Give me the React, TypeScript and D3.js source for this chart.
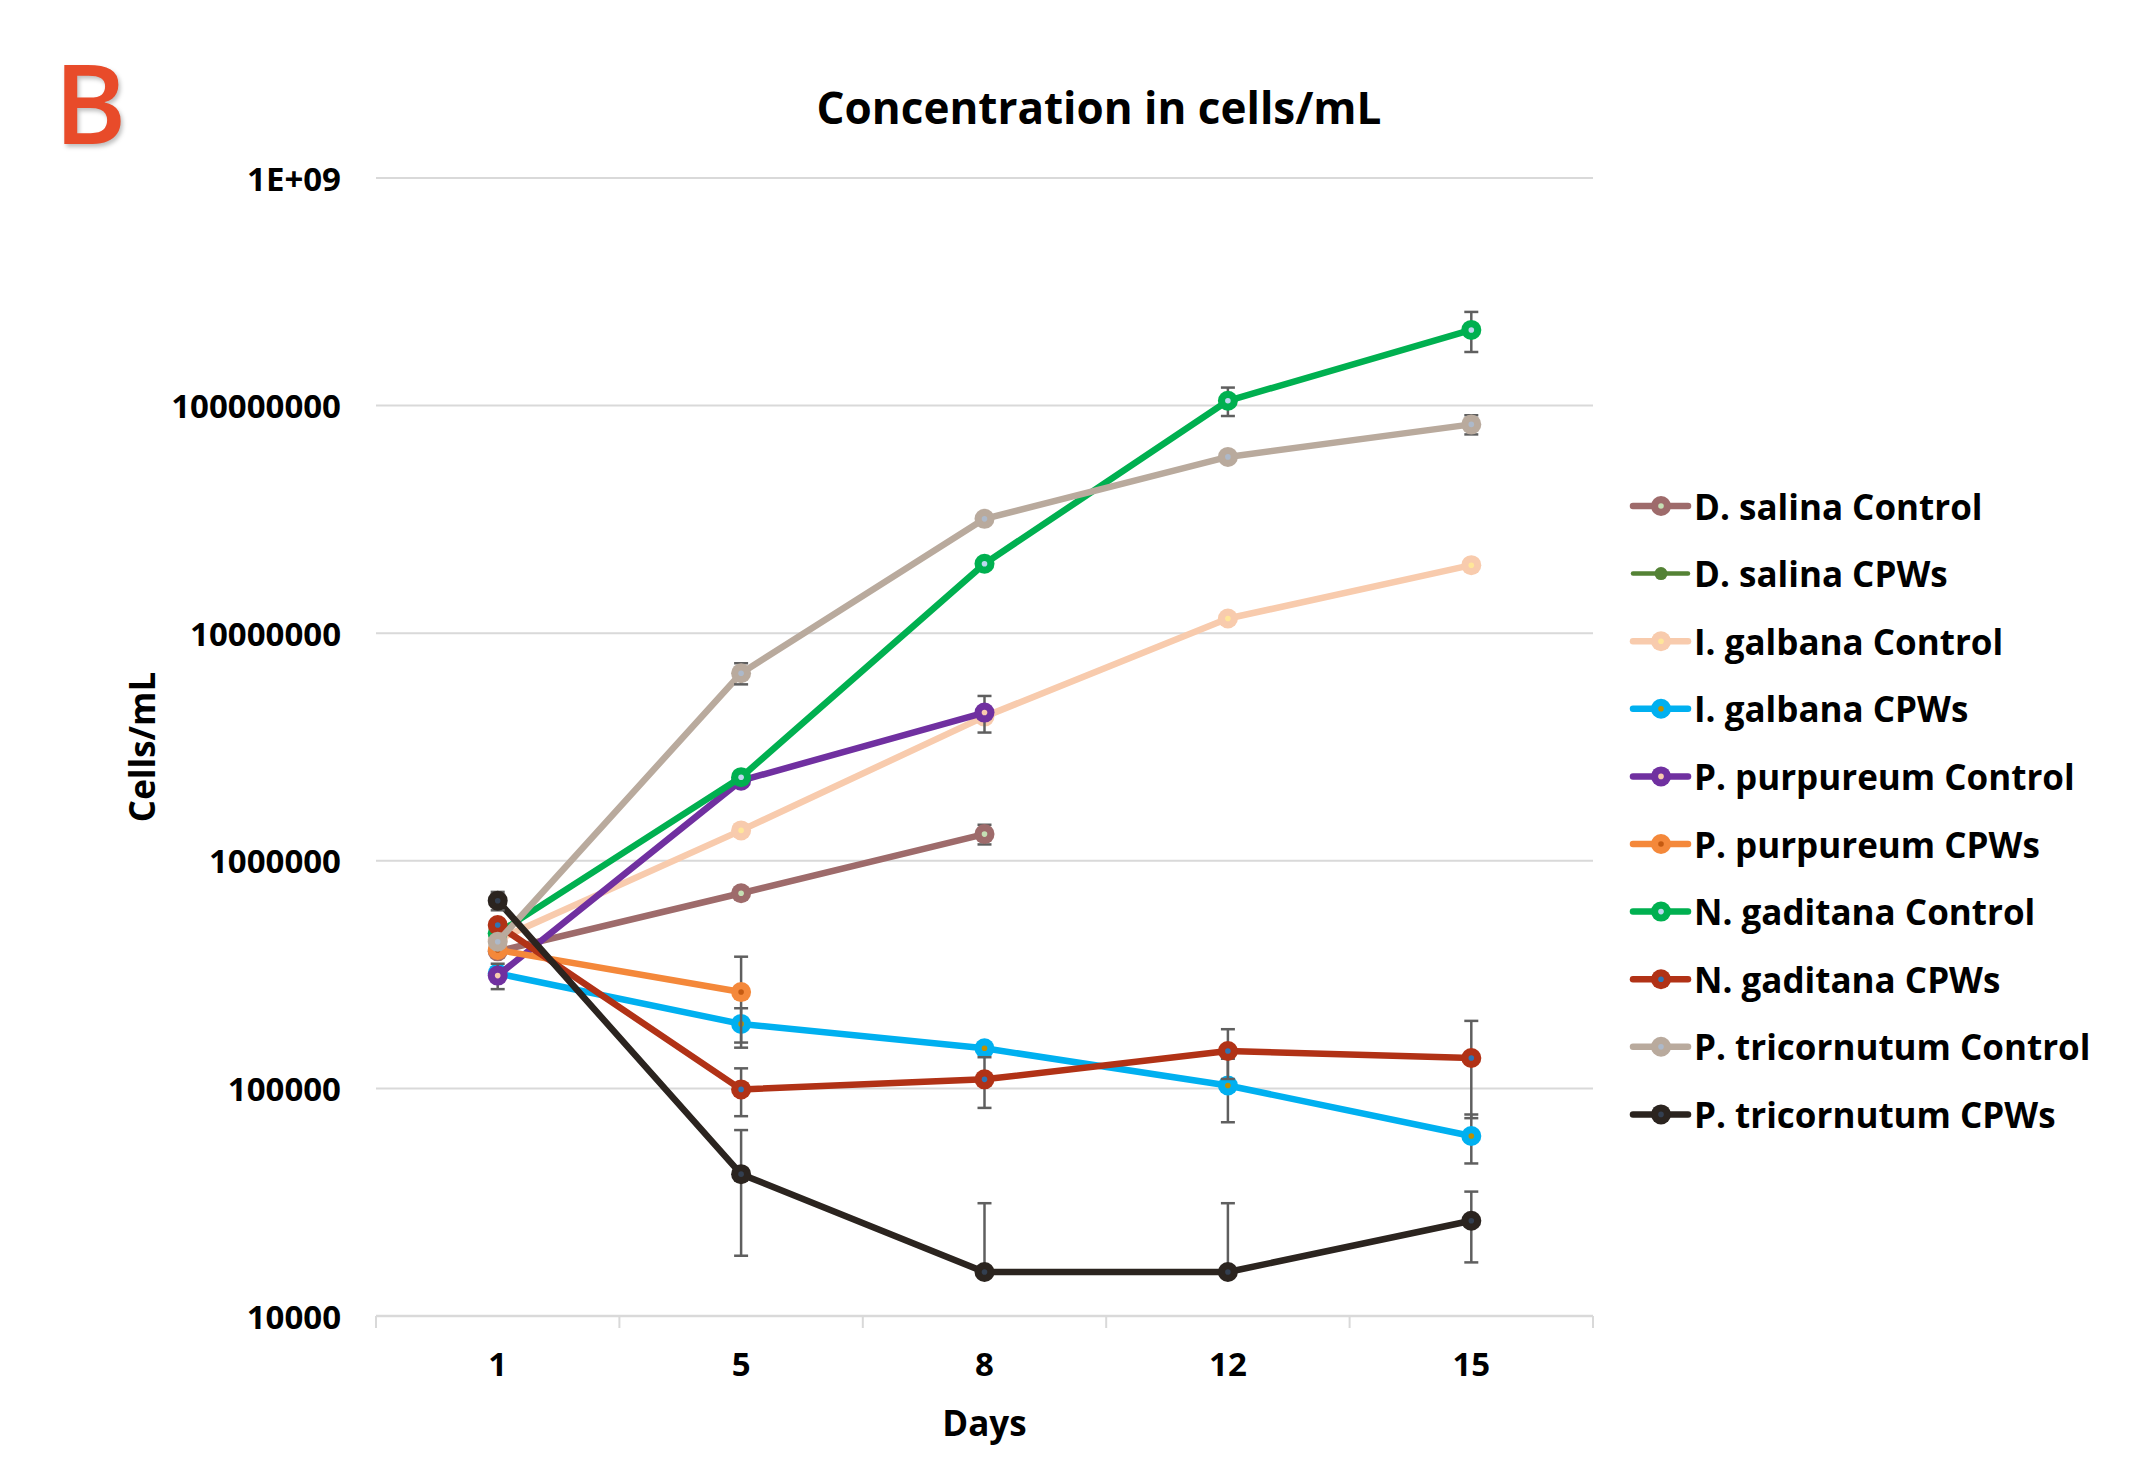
import React from 'react';
import * as d3 from 'd3';

// days on the x axis
const days = ['1', '5', '8', '12', '15'];

// series names, legend order (also drawing order)
const seriesNames = [
  'D. salina Control',
  'D. salina CPWs',
  'I. galbana Control',
  'I. galbana CPWs',
  'P. purpureum Control',
  'P. purpureum CPWs',
  'N. gaditana Control',
  'N. gaditana CPWs',
  'P. tricornutum Control',
  'P. tricornutum CPWs',
];

// values in cells/mL (null = no measurement)
const dSalinaControl = [400000, 720000, 1310000, null, null];
const dSalinaCPWs = [null, null, null, null, null];
const iGalbanaControl = [450000, 1360000, 4300000, 11600000, 19900000];
const iGalbanaCPWs = [320000, 192000, 150000, 103000, 61800];
const pPurpureumControl = [313000, 2250000, 4480000, null, null];
const pPurpureumCPWs = [406000, 265000, null, null, null];
const nGaditanaControl = [480000, 2330000, 20200000, 105000000, 215000000];
const nGaditanaCPWs = [522000, 99000, 109600, 146000, 136000];
const pTricornutumControl = [441000, 6670000, 31800000, 59500000, 82700000];
const pTricornutumCPWs = [668000, 42000, 15600, 15600, 26200];

// error bars (+/-)
const dSalinaControlErr = [0, 0, 130000, 0, 0];
const dSalinaCPWsErr = [0, 0, 0, 0, 0];
const iGalbanaControlErr = [0, 0, 0, 0, 0];
const iGalbanaCPWsErr = [0, 33000, 0, 32000, 15000];
const pPurpureumControlErr = [40000, 0, 820000, 0, 0];
const pPurpureumCPWsErr = [0, 114000, 0, 0, 0];
const nGaditanaControlErr = [0, 0, 0, 15000000, 43000000];
const nGaditanaCPWsErr = [0, 23500, 27500, 36000, 62000];
const pTricornutumControlErr = [0, 710000, 0, 0, 8000000];
const pTricornutumCPWsErr = [62000, 23600, 15700, 15700, 9000];

const yTicks = [10000, 100000, 1000000, 10000000, 100000000, 1000000000];
const yTickLabels = ['10000', '100000', '1000000', '10000000', '100000000', '1E+09'];

const colors = ['#9e6b6b', '#548235', '#f8cbad', '#00b0f0', '#7030a0', '#f4883a', '#00b050', '#b13216', '#b9aa9d', '#2b241f'];
const dotColors = ['#c5e0b4', '#375623', '#ffe699', '#bf9000', '#f8cbad', '#c55a11', '#bdd7ee', '#2e75b6', '#adb9ca', '#333f50'];

const allValues = [dSalinaControl, dSalinaCPWs, iGalbanaControl, iGalbanaCPWs, pPurpureumControl, pPurpureumCPWs, nGaditanaControl, nGaditanaCPWs, pTricornutumControl, pTricornutumCPWs];
const allErrs = [dSalinaControlErr, dSalinaCPWsErr, iGalbanaControlErr, iGalbanaCPWsErr, pPurpureumControlErr, pPurpureumCPWsErr, nGaditanaControlErr, nGaditanaCPWsErr, pTricornutumControlErr, pTricornutumCPWsErr];

const W = 2146;
const H = 1464;
const font = "'Open Sans', 'DejaVu Sans', sans-serif";

export default function App() {
  const plot = { left: 376, right: 1593, top: 178, bottom: 1316 };

  const x = d3.scaleBand<string>().domain(days).range([plot.left, plot.right]);
  const y = d3.scaleLog().domain([10000, 1000000000]).range([plot.bottom, plot.top]);
  const cx = (d: string) => (x(d) as number) + x.bandwidth() / 2;

  const line = d3
    .line<[string, number | null]>()
    .defined((d) => d[1] != null)
    .x((d) => cx(d[0]))
    .y((d) => y(d[1] as number));

  const legendX = 1633;
  const legendY = 506;
  const legendStep = 67.6;

  return (
    <svg width={W} height={H} style={{ position: 'absolute', left: 0, top: 0, background: '#fff' }} fontFamily={font}>
      <rect width={W} height={H} fill="#fff" />
      <text x={54} y={144} fontSize={110} fontWeight={600} fill="#e84b2a" style={{ filter: 'drop-shadow(2px 3px 2px rgba(0,0,0,0.25))' }}>
        B
      </text>
      <text x={1099} y={107} fontSize={44} fontWeight={700} textAnchor="middle" dominantBaseline="central">
        Concentration in cells/mL
      </text>

      {/* gridlines */}
      {yTicks.map((t, i) => (
        <g key={t}>
          <line x1={plot.left} x2={plot.right} y1={y(t)} y2={y(t)} stroke="#d9d9d9" strokeWidth={i === 0 ? 2.5 : 2} />
          <text x={341} y={y(t)} fontSize={33} fontWeight={700} textAnchor="end" dominantBaseline="central">
            {yTickLabels[i]}
          </text>
        </g>
      ))}

      {/* x ticks */}
      {[...days.map((d) => x(d) as number), plot.right].map((v, i) => (
        <line key={i} x1={v} x2={v} y1={plot.bottom} y2={plot.bottom + 12} stroke="#d9d9d9" strokeWidth={2} />
      ))}
      {days.map((d) => (
        <text key={d} x={cx(d)} y={1363} fontSize={33} fontWeight={700} textAnchor="middle" dominantBaseline="central">
          {d}
        </text>
      ))}
      <text x={(plot.left + plot.right) / 2} y={1422} fontSize={35} fontWeight={700} textAnchor="middle" dominantBaseline="central">
        Days
      </text>
      <text transform={`translate(141, ${(plot.top + plot.bottom) / 2}) rotate(-90)`} fontSize={35} fontWeight={700} textAnchor="middle" dominantBaseline="central">
        Cells/mL
      </text>

      {/* series */}
      {allValues.map((vals, si) => {
        const pts = days.map((d, i) => [d, vals[i]] as [string, number | null]);
        const errs = allErrs[si];
        return (
          <g key={si}>
            <path d={line(pts) || ''} fill="none" stroke={colors[si]} strokeWidth={6.5} strokeLinejoin="round" />
            {pts.map(([d, v], i) => {
              if (v == null || !errs[i]) return null;
              const hi = y(v + errs[i]);
              const lo = v - errs[i] > 0 ? y(v - errs[i]) : null;
              const xc = cx(d);
              return (
                <g key={'e' + i} stroke="#5f5f5f" strokeWidth={2.5}>
                  <line x1={xc} x2={xc} y1={hi} y2={lo ?? y(v)} />
                  <line x1={xc - 7} x2={xc + 7} y1={hi} y2={hi} />
                  {lo != null && <line x1={xc - 7} x2={xc + 7} y1={lo} y2={lo} />}
                </g>
              );
            })}
            {pts.map(([d, v], i) =>
              v == null ? null : (
                <g key={'m' + i}>
                  <circle cx={cx(d)} cy={y(v)} r={10} fill={colors[si]} />
                  <circle cx={cx(d)} cy={y(v)} r={2.8} fill={dotColors[si]} />
                </g>
              )
            )}
          </g>
        );
      })}

      {/* legend */}
      {seriesNames.map((name, i) => {
        const ly = legendY + i * legendStep;
        const thin = i === 1;
        return (
          <g key={name}>
            <line x1={legendX} x2={legendX + 55} y1={ly} y2={ly} stroke={colors[i]} strokeWidth={thin ? 4.5 : 6.5} strokeLinecap="round" />
            <circle cx={legendX + 28} cy={ly} r={thin ? 6.5 : 10} fill={colors[i]} />
            {!thin && <circle cx={legendX + 28} cy={ly} r={2.8} fill={dotColors[i]} />}
            <text x={1694} y={ly} fontSize={35} fontWeight={700} dominantBaseline="central">
              {name}
            </text>
          </g>
        );
      })}
    </svg>
  );
}
